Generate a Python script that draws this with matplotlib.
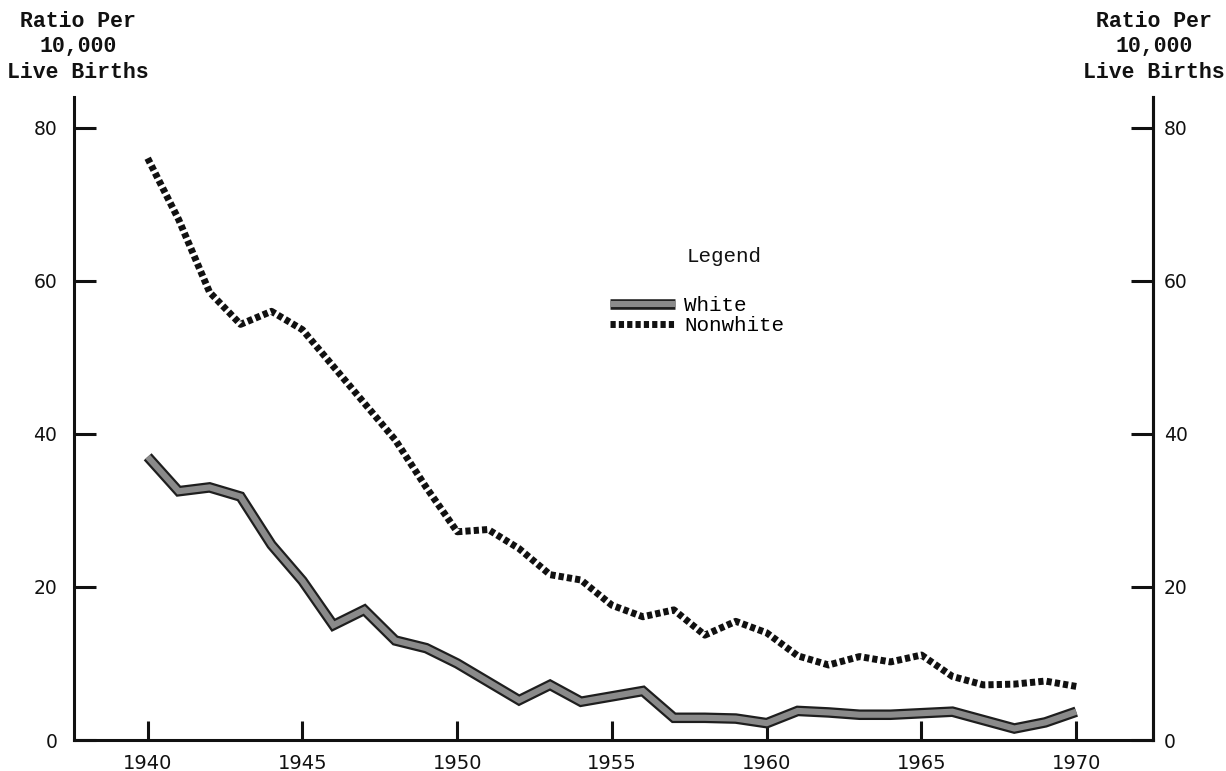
import matplotlib
matplotlib.use("Agg")
import matplotlib.pyplot as plt
from matplotlib.lines import Line2D

years = list(range(1940, 1971))
white = [37.0, 32.5, 33.0, 31.8, 25.5, 20.8, 15.0, 17.0, 13.0, 12.0, 10.0,
         7.6, 5.2, 7.2, 5.0, 5.7, 6.4, 2.9, 2.9, 2.8, 2.2, 3.8, 3.6, 3.3,
         3.3, 3.5, 3.7, 2.6, 1.5, 2.3, 3.7]
nonwhite = [76.0, 68.0, 58.5, 54.3, 56.0, 53.6, 48.8, 44.0, 39.2, 33.0, 27.2,
            27.5, 25.0, 21.6, 20.9, 17.6, 16.1, 17.0, 13.7, 15.5, 14.0, 11.0,
            9.8, 10.9, 10.2, 11.1, 8.3, 7.2, 7.3, 7.7, 7.0]
xticks = [1940, 1945, 1950, 1955, 1960, 1965, 1970]
yticks = [0, 20, 40, 60, 80]
header = "Ratio Per\n10,000\nLive Births"

mono = "Liberation Mono"
ink = "#111111"

fig = plt.figure(figsize=(12.26, 7.71), dpi=100)
ax = fig.add_axes([74/1226, 1 - 740/771, (1153-74)/1226, (740-97)/771])
ax.set_xlim(1937.62, 1972.48)
ax.set_ylim(0, 84)

# White: thick dark outline with grey core
ax.plot(years, white, color="#1e1e1e", lw=7.6, solid_joinstyle="miter",
        solid_capstyle="butt", zorder=3)
ax.plot(years, white, color="#8a8a8a", lw=4.4, solid_joinstyle="miter",
        solid_capstyle="butt", zorder=4)
# Nonwhite: heavy short dashes
ax.plot(years, nonwhite, color=ink, lw=5, dashes=(0.75, 0.45),
        dash_capstyle="butt", zorder=3)

ax.spines["top"].set_visible(False)
for s in ["left", "right", "bottom"]:
    ax.spines[s].set_linewidth(2.2)
    ax.spines[s].set_color(ink)

ax.set_xticks(xticks)
ax.set_xticklabels([str(x) for x in xticks])
ax.set_yticks(yticks)
ax.set_yticklabels([str(y) for y in yticks])
ax.tick_params(axis="x", direction="in", length=14, width=2.2, pad=10,
               labelsize=14, colors=ink)
ax.tick_params(axis="y", direction="in", length=16, width=2.2, pad=12,
               labelsize=13.5, left=True, right=False, colors=ink)

ax2 = ax.twinx()
ax2.set_ylim(ax.get_ylim())
ax2.set_yticks(yticks)
ax2.set_yticklabels([str(y) for y in yticks])
ax2.tick_params(axis="y", direction="in", length=16, width=2.2, pad=8,
                labelsize=13.5, colors=ink)
for s in ["top", "left", "bottom"]:
    ax2.spines[s].set_visible(False)
ax2.spines["right"].set_linewidth(2.2)
ax2.spines["right"].set_color(ink)

# Headers
for cx in (78, 1154):
    fig.text(cx/1226, 1 - 11/771, header, ha="center", va="top", family=mono,
             weight="bold", fontsize=15.5, linespacing=1.27, color=ink)

# Legend
fig.text(724/1226, 1 - 257/771, "Legend", ha="center", va="center",
         family=mono, fontsize=15, color=ink)
h_white = (Line2D([], [], color="#1e1e1e", lw=7.6, solid_capstyle="butt"),
           Line2D([], [], color="#8a8a8a", lw=4.4, solid_capstyle="butt"))
h_non = Line2D([], [], color=ink, lw=5, dashes=(0.75, 0.45),
               dash_capstyle="butt")
leg = ax2.legend([h_white, h_non], ["White", "Nonwhite"], loc="upper left",
                 bbox_to_anchor=(610/1226, 1 - 296/771),
                 bbox_transform=fig.transFigure, frameon=False,
                 prop={"family": mono, "size": 15}, handlelength=3.1,
                 handletextpad=0.45, labelspacing=0.05, borderpad=0,
                 borderaxespad=0)

fig.savefig("out.png", dpi=100)
